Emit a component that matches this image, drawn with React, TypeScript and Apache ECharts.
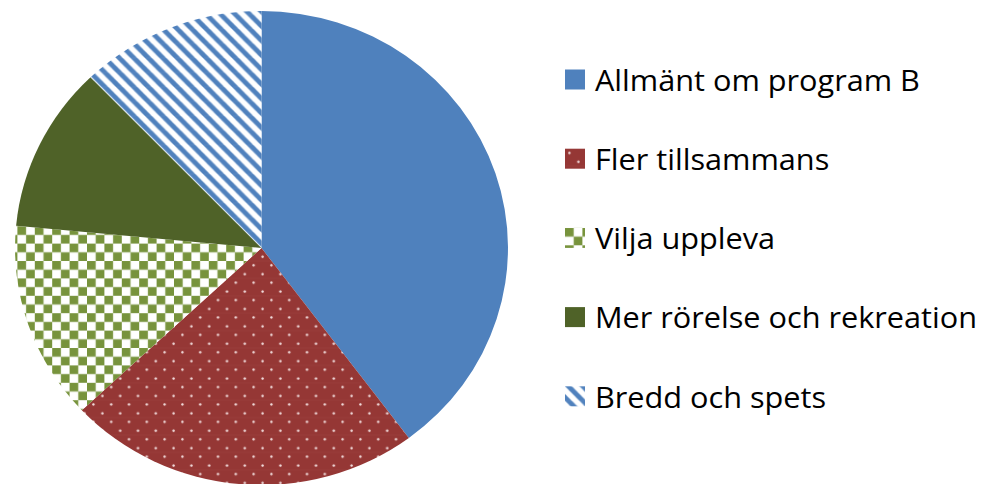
import React, { useEffect, useRef } from "react";
import * as echarts from "echarts";

const categories = [
  "Allmänt om program B",
  "Fler tillsammans",
  "Vilja uppleva",
  "Mer rörelse och rekreation",
  "Bredd och spets",
];
const values = [39.8, 23.2, 13.5, 11.3, 12.2];

const SX = 1.04; // horizontal stretch of the original picture

function makePattern(
  w: number,
  h: number,
  draw: (ctx: CanvasRenderingContext2D, cw: number, ch: number) => void,
  res = 8
) {
  const c = document.createElement("canvas");
  c.width = Math.round(w * res);
  c.height = Math.round(h * res);
  const ctx = c.getContext("2d")!;
  draw(ctx, c.width, c.height);
  return { image: c, repeat: "repeat", imageWidth: w, imageHeight: h } as any;
}

function buildColors() {
  const blue = "#4F81BD";
  const darkGreen = "#4F6228";
  const dots = makePattern(17.8 / SX, 17.4, (ctx, cw, ch) => {
    ctx.fillStyle = "#953735";
    ctx.fillRect(0, 0, cw, ch);
    ctx.fillStyle = "#f4e2e2";
    const r = cw * 0.07;
    [
      [0.25, 0.25],
      [0.75, 0.75],
    ].forEach(([u, v]) => {
      ctx.beginPath();
      ctx.arc(u * cw, v * ch, r, 0, Math.PI * 2);
      ctx.fill();
    });
  });
  const checker = makePattern(17.4 / SX, 17.4, (ctx, cw, ch) => {
    ctx.fillStyle = "#ffffff";
    ctx.fillRect(0, 0, cw, ch);
    ctx.fillStyle = "#77933C";
    ctx.fillRect(0, 0, cw / 2, ch / 2);
    ctx.fillRect(cw / 2, ch / 2, cw / 2, ch / 2);
  });
  const stripes = makePattern(14.5 / SX, 14.5, (ctx, cw, ch) => {
    const img = ctx.createImageData(cw, ch);
    for (let j = 0; j < ch; j++) {
      for (let i = 0; i < cw; i++) {
        let d = i / cw - j / ch;
        d = d - Math.floor(d);
        const k = (j * cw + i) * 4;
        if (d < 0.47) {
          img.data[k] = 0x4f;
          img.data[k + 1] = 0x81;
          img.data[k + 2] = 0xbd;
        } else {
          img.data[k] = 255;
          img.data[k + 1] = 255;
          img.data[k + 2] = 255;
        }
        img.data[k + 3] = 255;
      }
    }
    ctx.putImageData(img, 0, 0);
  });
  return [blue, dots, checker, darkGreen, stripes];
}

export default function App() {
  const ref = useRef<HTMLDivElement>(null);
  useEffect(() => {
    document.body.style.margin = "0";
    if (!ref.current) return;
    const chart = echarts.init(ref.current, undefined, { renderer: "svg" });
    const colors = buildColors();
    chart.setOption({
      animation: false,
      backgroundColor: "#ffffff",
      legend: {
        orient: "vertical",
        left: 565 / SX,
        top: 64.5,
        padding: 0,
        icon: "rect",
        itemWidth: 20 / SX,
        itemHeight: 20,
        itemGap: 49.2,
        selectedMode: false,
        textStyle: {
          fontFamily: "Open Sans",
          fontSize: 29.5,
          color: "#000000",
          lineHeight: 20,
          padding: [0, 0, 0, 4.6],
        },
        data: categories,
      },
      series: [
        {
          type: "pie",
          center: [261.5 / SX, 248],
          radius: 237,
          startAngle: 90,
          clockwise: true,
          silent: true,
          label: { show: false },
          labelLine: { show: false },
          itemStyle: { borderWidth: 0 },
          emphasis: { disabled: true },
          data: categories.map((name, i) => ({
            name,
            value: values[i],
            itemStyle: { color: colors[i] },
          })),
        },
      ],
    });
    return () => chart.dispose();
  }, []);
  return (
    <div
      ref={ref}
      style={{
        position: "absolute",
        left: 0,
        top: 0,
        width: 987 / SX,
        height: 484,
        transform: `scaleX(${SX})`,
        transformOrigin: "0 0",
      }}
    />
  );
}
